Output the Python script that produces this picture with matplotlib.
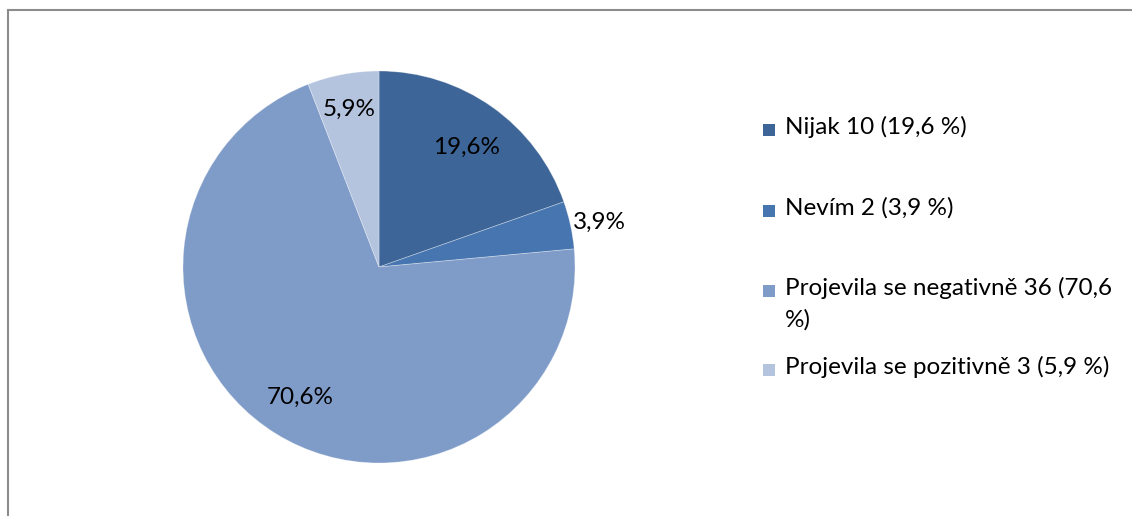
import matplotlib
matplotlib.use("Agg")
import matplotlib.pyplot as plt
from matplotlib.patches import Rectangle
import numpy as np

categories = ["Nijak 10 (19,6 %)", "Nevím 2 (3,9 %)",
              "Projevila se negativně 36 (70,6\n%)", "Projevila se pozitivně 3 (5,9 %)"]
counts = [10, 2, 36, 3]
pct_labels = ["19,6%", "3,9%", "70,6%", "5,9%"]

colors = ["#3D6597", "#4775AF", "#7F9BC8", "#B4C3DE"]
label_radius = [0.77, 1.15, 0.76, 0.84]

plt.rcParams['font.family'] = ['Lato', 'DejaVu Sans']
FS = 17.5

fig = plt.figure(figsize=(11.32, 5.16), dpi=100)
ax = fig.add_axes([183/1132, 1 - 463/516, 392/1132, 392/516])
wedges, _ = ax.pie(counts, colors=colors, startangle=90, counterclock=False,
                   radius=1.0, wedgeprops=dict(edgecolor=(1, 1, 1, 0.35), linewidth=0.6))
ax.set_xlim(-1, 1)
ax.set_ylim(-1, 1)
ax.set_aspect('equal')
ax.axis('off')

for w, lab, r in zip(wedges, pct_labels, label_radius):
    mid = np.deg2rad((w.theta1 + w.theta2) / 2)
    ax.text(r * np.cos(mid), r * np.sin(mid) - 0.02, lab, ha='center', va='center',
            fontsize=FS, color='black', clip_on=False)

# legend (manual, marker aligned with first text line)
leg_y = [130, 211, 291, 370]
for lab, col, y in zip(categories, colors, leg_y):
    fig.add_artist(Rectangle((763/1132, 1 - (y + 6)/516), 12/1132, 12/516,
                             transform=fig.transFigure, facecolor=col, edgecolor='none'))
    fig.text(785/1132, 1 - (y - 14)/516, lab, ha='left', va='top', fontsize=FS,
             color='black', linespacing=1.55)

# chart-area border
fig.add_artist(plt.Line2D([8/1132, 8/1132], [0, 1 - 10/516], transform=fig.transFigure,
                          color='#8C8C8C', linewidth=1.5))
fig.add_artist(plt.Line2D([8/1132, 1], [1 - 10/516, 1 - 10/516], transform=fig.transFigure,
                          color='#8C8C8C', linewidth=1.5))

fig.savefig("out.png", dpi=100, facecolor='white')
